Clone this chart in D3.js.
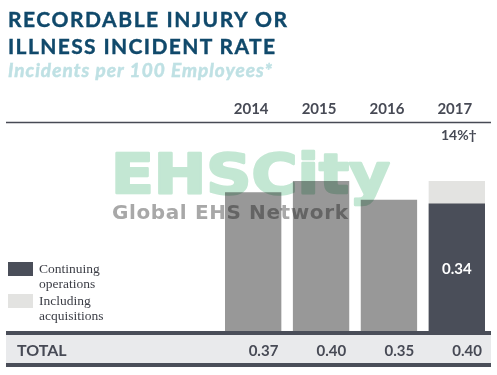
<!DOCTYPE html>
<html>
<head>
<meta charset="utf-8">
<script src="https://cdn.jsdelivr.net/npm/d3@7"></script>
<style>
  body { margin: 0; background: #fff; }
  svg { display: block; }
  .watermark { mix-blend-mode: multiply; }
</style>
</head>
<body>
<div id="chart"></div>
<script>
// data
const years = ["2014", "2015", "2016", "2017"];
const totals = [0.37, 0.40, 0.35, 0.40];
const continuing = [null, null, null, 0.34];
const changeLabel = ["", "", "", "14%\u2020"];
const titleLines = ["RECORDABLE INJURY OR", "ILLNESS INCIDENT RATE"];
const subtitle = "Incidents per 100 Employees*";
const legendItems = [
    {key: "cont", lines: ["Continuing", "operations"]},
    {key: "acq", lines: ["Including", "acquisitions"]}
];

const width = 497, height = 375;
const colors = {title: "#10496b", sub: "#bfe1e4", text: "#474a55", gray: "#989898",
    dark: "#4a4e59", light: "#e3e3e1", band: "#e9eaec"};
const sans = "Lato, 'Open Sans', sans-serif";

let svg = d3.select("#chart").append("svg")
    .attr("width", width)
    .attr("height", height);

// scales
let x = d3.scaleBand()
    .domain(years)
    .range([225, 485])
    .paddingInner(0.17)
    .paddingOuter(0);

let y = d3.scaleLinear()
    .domain([0, 0.4])
    .range([331, 181]);

// title
svg.selectAll(".title")
    .data(titleLines)
    .enter().append("text")
    .attr("class", "title")
    .attr("x", 8)
    .attr("y", (d, i) => 27 + i * 27)
    .attr("textLength", (d, i) => i == 0 ? 279 : 267)
    .attr("lengthAdjust", "spacing")
    .style("font-family", sans)
    .style("font-weight", 700)
    .style("font-size", "21px")
    .attr("fill", colors.title)
    .attr("stroke", colors.title)
    .attr("stroke-width", 0.4)
    .text(d => d);

svg.append("text")
    .attr("x", 8)
    .attr("y", 77)
    .attr("textLength", 264)
    .attr("lengthAdjust", "spacing")
    .style("font-family", sans)
    .style("font-weight", 700)
    .style("font-style", "italic")
    .style("font-size", "19px")
    .attr("fill", colors.sub)
    .attr("stroke", colors.sub)
    .attr("stroke-width", 0.5)
    .text(subtitle);

// top rule
svg.append("line")
    .attr("x1", 6).attr("x2", 491)
    .attr("y1", 122.5).attr("y2", 122.5)
    .attr("stroke", colors.text)
    .attr("stroke-width", 1.5);

// year labels
svg.selectAll(".year")
    .data(years)
    .enter().append("text")
    .attr("class", "year")
    .attr("x", d => x(d) + x.bandwidth() / 2 - 2)
    .attr("y", 114)
    .attr("text-anchor", "middle")
    .style("font-family", sans)
    .style("font-weight", 700)
    .style("font-size", "15px")
    .attr("fill", colors.text)
    .text(d => d);

svg.selectAll(".change")
    .data(years)
    .enter().append("text")
    .attr("class", "change")
    .attr("x", d => x(d) + x.bandwidth() / 2 + 2)
    .attr("y", 140)
    .attr("text-anchor", "middle")
    .style("font-family", sans)
    .style("font-weight", 700)
    .style("font-size", "14px")
    .attr("fill", colors.text)
    .text((d, i) => changeLabel[i]);

// bars: total (gray, or light where split)
svg.selectAll(".bar-total")
    .data(years)
    .enter().append("rect")
    .attr("class", "bar-total")
    .attr("x", d => x(d))
    .attr("width", x.bandwidth())
    .attr("y", (d, i) => y(totals[i]))
    .attr("height", (d, i) => y(0) - y(totals[i]))
    .attr("fill", (d, i) => continuing[i] == null ? colors.gray : colors.light);

let split = years.filter((d, i) => continuing[i] != null);

svg.selectAll(".bar-cont")
    .data(split)
    .enter().append("rect")
    .attr("class", "bar-cont")
    .attr("x", d => x(d))
    .attr("width", x.bandwidth())
    .attr("y", d => y(continuing[years.indexOf(d)]))
    .attr("height", d => y(0) - y(continuing[years.indexOf(d)]))
    .attr("fill", colors.dark);

svg.selectAll(".cont-label")
    .data(split)
    .enter().append("text")
    .attr("class", "cont-label")
    .attr("x", d => x(d) + x.bandwidth() / 2)
    .attr("y", d => y(continuing[years.indexOf(d)]) + 70)
    .attr("text-anchor", "middle")
    .style("font-family", sans)
    .style("font-weight", 700)
    .style("font-size", "15px")
    .attr("fill", "#fff")
    .text(d => continuing[years.indexOf(d)].toFixed(2));

// total band
svg.append("rect")
    .attr("x", 6).attr("y", 333)
    .attr("width", 485).attr("height", 31)
    .attr("fill", colors.band);

svg.append("rect")
    .attr("x", 6).attr("y", 331)
    .attr("width", 485).attr("height", 4)
    .attr("fill", colors.dark);

svg.append("rect")
    .attr("x", 6).attr("y", 363)
    .attr("width", 485).attr("height", 4)
    .attr("fill", colors.dark);

svg.append("text")
    .attr("x", 17)
    .attr("y", 356)
    .style("font-family", sans)
    .style("font-weight", 700)
    .style("font-size", "16px")
    .attr("fill", colors.text)
    .text("TOTAL");

svg.selectAll(".total-val")
    .data(years)
    .enter().append("text")
    .attr("class", "total-val")
    .attr("x", d => x(d) + x.bandwidth() - 3)
    .attr("y", 356)
    .attr("text-anchor", "end")
    .style("font-family", sans)
    .style("font-weight", 700)
    .style("font-size", "15px")
    .attr("fill", colors.text)
    .text((d, i) => totals[i].toFixed(2));

// legend
let legend = svg.selectAll(".legend")
    .data(legendItems)
    .enter().append("g")
    .attr("class", "legend")
    .attr("transform", (d, i) => "translate(8," + (262 + i * 32) + ")");

legend.append("rect")
    .attr("width", 25)
    .attr("height", 14)
    .attr("fill", d => d.key == "cont" ? colors.dark : colors.light);

legend.append("text")
    .attr("x", 31)
    .attr("y", 11)
    .style("font-family", "'Liberation Serif', 'DejaVu Serif', serif")
    .style("font-size", "13.5px")
    .attr("fill", "#3c3e46")
    .selectAll("tspan")
    .data(d => d.lines)
    .enter().append("tspan")
    .attr("x", 31)
    .attr("dy", (d, i) => i == 0 ? 0 : 15)
    .text(d => d);

// watermark overlay
let wm = svg.append("g").attr("class", "watermark");

wm.append("text")
    .attr("x", 111)
    .attr("y", 193)
    .attr("textLength", 279)
    .attr("lengthAdjust", "spacingAndGlyphs")
    .style("font-family", "'DejaVu Sans', sans-serif")
    .style("font-weight", 700)
    .style("font-size", "56px")
    .attr("fill", "#c3e7d3")
    .attr("stroke", "#c3e7d3")
    .attr("stroke-width", 2.5)
    .attr("stroke-linejoin", "round")
    .text("EHSCity");

wm.append("text")
    .attr("x", 112)
    .attr("y", 219)
    .attr("textLength", 236)
    .attr("lengthAdjust", "spacing")
    .style("font-family", "'DejaVu Sans', sans-serif")
    .style("font-weight", 700)
    .style("font-size", "20px")
    .attr("fill", "#a8a8a8")
    .text("Global EHS Network");
</script>
</body>
</html>
